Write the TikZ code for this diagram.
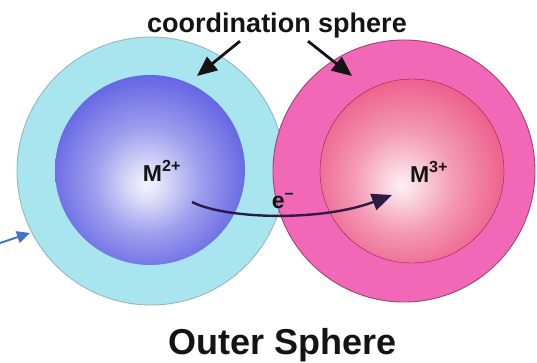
\documentclass[tikz,border=0pt]{standalone}
\usepackage{fontspec}
\setmainfont{Liberation Sans}
\usetikzlibrary{arrows.meta, calc}
\definecolor{ringteal}{HTML}{A9E5EF}
\definecolor{ringpink}{HTML}{F168B6}
\definecolor{coreblue}{HTML}{3D3EDD}
\definecolor{corepink}{HTML}{E8336C}
\definecolor{pointerblue}{HTML}{4472C4}
\definecolor{inkdark}{HTML}{141414}
\definecolor{electron}{HTML}{2B1B45}
\pgfdeclareradialshading{bluecore}{\pgfpoint{-1bp}{-4bp}}{color(0bp)=(coreblue!5!white); color(5bp)=(coreblue!20!white); color(14bp)=(coreblue!50!white); color(26bp)=(coreblue!78!white); color(40bp)=(coreblue!93!white); color(50bp)=(coreblue)}
\pgfdeclareradialshading{pinkcore}{\pgfpoint{-3bp}{-4bp}}{color(0bp)=(corepink!7!white); color(5bp)=(corepink!22!white); color(14bp)=(corepink!50!white); color(26bp)=(corepink!76!white); color(40bp)=(corepink!92!white); color(50bp)=(corepink)}

\begin{document}
\begin{tikzpicture}[x=1pt, y=-1pt,
  ionlabel/.style={font=\bfseries\fontsize{23}{26}\selectfont, text=inkdark, anchor=base},
  pointer/.style={-{Triangle[length=20pt,width=17pt]}, line width=2.8pt, draw=inkdark}]
\useasboundingbox (0,0) rectangle (537,362);
% shells
\draw[line width=0.9pt, draw=ringteal!55!gray, fill=ringteal] (151,171) circle (134);
\draw[line width=0.9pt, draw=ringpink!65!black, fill=ringpink] (404,171) circle (131);
% metal ions
\shade[shading=bluecore] (150,170) circle (95);
\shade[shading=pinkcore, draw=corepink!65!black] (412,171) circle (92);
\node[ionlabel] (m2) at (162,181) {M\textsuperscript{2+}};
\node[ionlabel] (m3) at (429,182) {M\textsuperscript{3+}};
\node[ionlabel] (el) at (283,208) {e\textsuperscript{--}};
% labels
\node[font=\bfseries\fontsize{27}{30}\selectfont, text=inkdark, anchor=base] (cs) at (277,32) {coordination sphere};
\node[font=\bfseries\fontsize{36}{40}\selectfont, text=inkdark, anchor=base] (title) at (283,354) {Outer Sphere};
\coordinate (ltip) at (197,76);
\coordinate (rtip) at (352,76);
\draw[pointer] ($(cs.south)+(-37,0)$) -- (ltip);
\draw[pointer] ($(cs.south)+(31,0)$) -- (rtip);
% electron transfer
\coordinate (estart) at (192,202);
\coordinate (eend) at (392,195);
\draw[-{Triangle[length=20pt,width=17pt]}, line width=2.4pt, draw=electron] (estart) .. controls (225,219) and (320,222) .. (eend);
% pointer on the left
\coordinate (ptail) at (0,243);
\coordinate (phead) at (30,233);
\draw[-{Triangle[length=13pt,width=12pt]}, line width=2pt, pointerblue] (ptail) -- (phead);
\end{tikzpicture}
\end{document}
